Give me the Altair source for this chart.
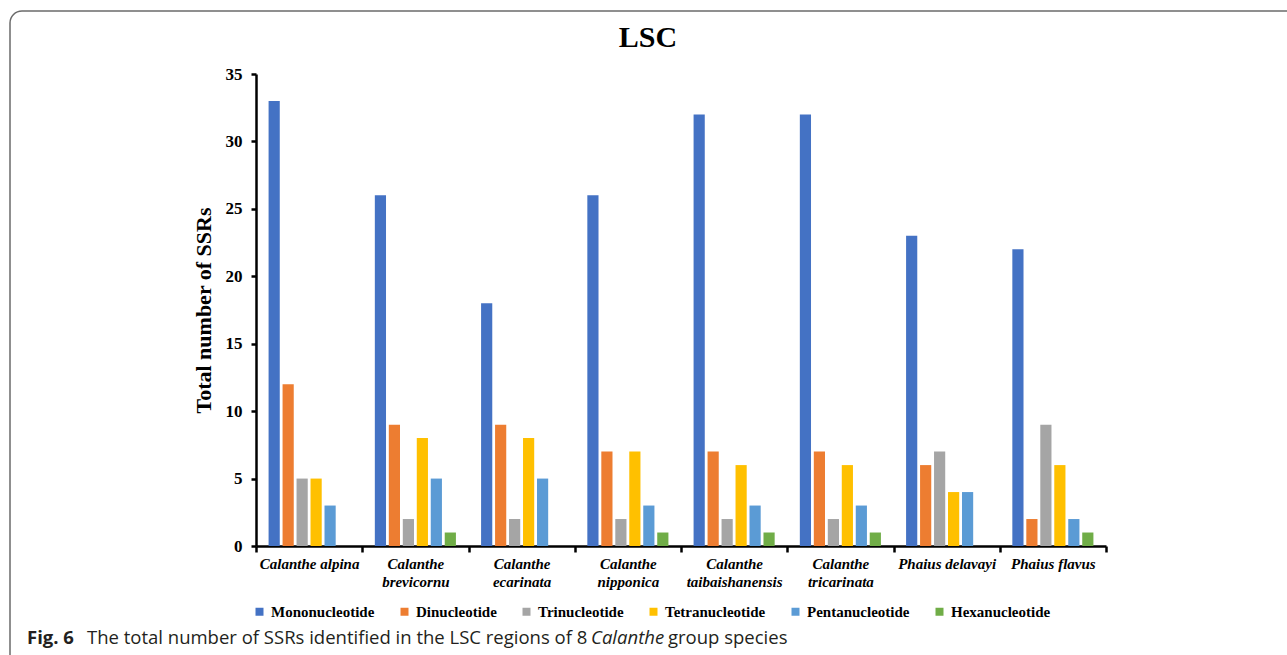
import altair as alt
import pandas as pd

species = ["Calanthe alpina", "Calanthe brevicornu", "Calanthe ecarinata", "Calanthe nipponica",
           "Calanthe taibaishanensis", "Calanthe tricarinata", "Phaius delavayi", "Phaius flavus"]
series = ["Mononucleotide", "Dinucleotide", "Trinucleotide", "Tetranucleotide",
          "Pentanucleotide", "Hexanucleotide"]
colors = ["#4472C4", "#ED7D31", "#A5A5A5", "#FFC000", "#5B9BD5", "#70AD47"]

mono = [33, 26, 18, 26, 32, 32, 23, 22]
di = [12, 9, 9, 7, 7, 7, 6, 2]
tri = [5, 2, 2, 2, 2, 2, 7, 9]
tetra = [5, 8, 8, 7, 6, 6, 4, 6]
penta = [3, 5, 5, 3, 3, 3, 4, 2]
hexa = [0, 1, 0, 1, 1, 1, 0, 1]
y_ticks = [0, 5, 10, 15, 20, 25, 30, 35]

chart_title = "LSC"
y_title = "Total number of SSRs"
caption_bold = "Fig. 6"
caption_1 = "The total number of SSRs identified in the LSC regions of 8"
caption_italic = "Calanthe"
caption_2 = "group species"

rows = []
for s, vals in zip(series, [mono, di, tri, tetra, penta, hexa]):
    for sp, v in zip(species, vals):
        rows.append({"species": sp, "series": s, "value": v})
df = pd.DataFrame(rows)

W, H = 850, 472
serif = "Liberation Serif"
sans = "Open Sans"

label_expr = ("(datum.label == 'Calanthe alpina' || indexof(datum.label, 'Phaius') == 0) "
              "? datum.label : split(datum.label, ' ')")

bars = alt.Chart(df).mark_bar().encode(
    x=alt.X("species:N", sort=species,
            scale=alt.Scale(paddingInner=0, paddingOuter=0),
            axis=alt.Axis(title=None, labelAngle=0, labelExpr=label_expr,
                          labelFont=serif, labelFontStyle="italic", labelFontWeight="bold",
                          labelFontSize=15, labelLineHeight=18, labelPadding=4,
                          labelColor="black", labelLimit=200,
                          domainColor="black", domainWidth=2.5,
                          tickColor="black", tickWidth=2.5, tickSize=6,
                          tickBand="extent")),
    xOffset=alt.XOffset("series:N", sort=series,
                        scale=alt.Scale(paddingInner=0.2, paddingOuter=0.9)),
    y=alt.Y("value:Q", scale=alt.Scale(domain=[0, 35], nice=False),
            axis=alt.Axis(title=y_title, values=y_ticks, grid=False,
                          labelFont=serif, labelFontWeight="bold", labelFontSize=17,
                          labelColor="black", labelPadding=9,
                          titleFont=serif, titleFontWeight="bold", titleFontSize=22,
                          titleColor="black", titlePadding=10,
                          domainColor="black", domainWidth=2.5,
                          tickColor="black", tickWidth=2.5, tickSize=5)),
    color=alt.Color("series:N", sort=series,
                    scale=alt.Scale(domain=series, range=colors),
                    legend=alt.Legend(title=None, orient="none", legendX=-4, legendY=530,
                                      direction="horizontal", symbolType="square",
                                      symbolSize=64, symbolStrokeWidth=0,
                                      labelFont=serif, labelFontWeight="bold",
                                      labelFontSize=15, labelColor="black",
                                      labelOffset=4, columnPadding=22, padding=0,
                                      labelLimit=300)),
)

one = pd.DataFrame({"k": [0]})

# outer frame: left edge and top edge with a rounded corner
box = alt.Chart(one).mark_rect(fill="transparent", stroke="#6b6b6b", strokeWidth=1.5,
                               cornerRadius=12).encode(
    x=alt.value(-246), x2=alt.value(W + 200), y=alt.value(-63), y2=alt.value(H + 200))

title = alt.Chart(pd.DataFrame({"t": [chart_title]})).mark_text(
    font=serif, fontWeight="bold", fontSize=30, color="black", baseline="middle",
    align="center").encode(text="t:N", x=alt.value(392), y=alt.value(-36))

cap_parts = [
    (caption_bold, "bold", "normal", 27 - 256),
    (caption_1, "normal", "normal", 87 - 256),
    (caption_italic, "normal", "italic", 591 - 256),
    (caption_2, "normal", "normal", 668 - 256),
]
caps = []
for txt, fw, fs, xx in cap_parts:
    caps.append(alt.Chart(pd.DataFrame({"t": [txt]})).mark_text(
        font=sans, fontWeight=fw, fontStyle=fs, fontSize=18.5, color="#231f20",
        baseline="middle", align="left").encode(
        text="t:N", x=alt.value(xx), y=alt.value(564)))

chart = alt.layer(bars, title, *caps, box).properties(
    width=W, height=H,
    background="white",
    autosize=alt.AutoSizeParams(type="none"),
    padding={"left": 256, "top": 74, "right": 181, "bottom": 109},
).configure_view(stroke=None, strokeWidth=0)

chart.save("out.html", embed_options={"renderer": "svg", "actions": False})
